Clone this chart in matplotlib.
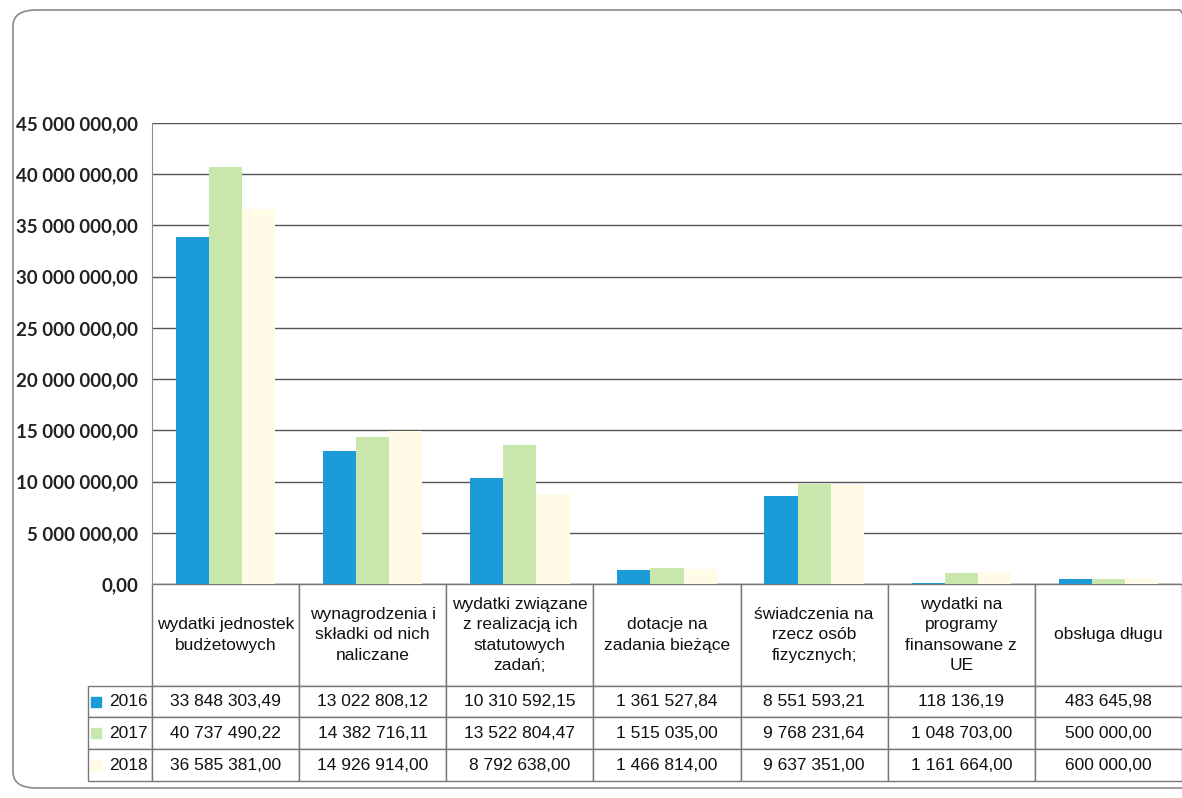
import numpy as np
import matplotlib.pyplot as plt
from matplotlib.ticker import FuncFormatter, MultipleLocator
from matplotlib.patches import FancyBboxPatch

# dane
kategorie = ['wydatki jednostek\nbudżetowych',
             'wynagrodzenia i\nskładki od nich\nnaliczane',
             'wydatki związane\nz realizacją ich\nstatutowych\nzadań;',
             'dotacje na\nzadania bieżące',
             'świadczenia na\nrzecz osób\nfizycznych;',
             'wydatki na\nprogramy\nfinansowane z\nUE',
             'obsługa długu']
lata = ['2016', '2017', '2018']
w2016 = [33848303.49, 13022808.12, 10310592.15, 1361527.84, 8551593.21, 118136.19, 483645.98]
w2017 = [40737490.22, 14382716.11, 13522804.47, 1515035.00, 9768231.64, 1048703.00, 500000.00]
w2018 = [36585381.00, 14926914.00, 8792638.00, 1466814.00, 9637351.00, 1161664.00, 600000.00]
kolory = ['#1b9bd7', '#c9e6ad', '#fffbe6']


def pl_fmt(v, pos=None):
    return f"{v:,.2f}".replace(',', ' ').replace('.', ',')


fig = plt.figure(figsize=(11.82, 7.98), dpi=100)
ax = fig.add_axes([152 / 1182, 1 - 584 / 798, 1030 / 1182, 461 / 798])

# ramka wykresu
fig.patches.append(FancyBboxPatch((13 / 1182, 10 / 798), 1190 / 1182, 778 / 798,
                                  boxstyle='round,pad=0,rounding_size=0.02',
                                  transform=fig.transFigure, fill=False,
                                  edgecolor='#8a8a8a', lw=1.2))

x = np.arange(len(kategorie))
bw = 0.225
for i, (vals, c) in enumerate(zip([w2016, w2017, w2018], kolory)):
    ax.bar(x + (i - 1) * bw, vals, bw, color=c, zorder=3)

ax.set_xlim(-0.5, len(kategorie) - 0.5)
ax.set_ylim(0, 45000000)
ax.yaxis.set_major_locator(MultipleLocator(5000000))
ax.yaxis.set_major_formatter(FuncFormatter(pl_fmt))
ax.grid(axis='y', color='#555555', lw=1, zorder=0)
ax.set_xticks([])
ax.tick_params(axis='y', length=0, pad=10)
for lab in ax.get_yticklabels():
    lab.set_fontfamily(['Lato', 'DejaVu Sans'])
    lab.set_fontweight('bold')
    lab.set_fontsize(13.5)
    lab.set_color('#222222')
for s in ['top', 'right', 'bottom']:
    ax.spines[s].set_visible(False)
ax.spines['left'].set_color('#9a8a8a')

# tabela danych
komorki = [[pl_fmt(v) for v in row] for row in [w2016, w2017, w2018]]
th = 197 / 461
tab = ax.table(cellText=komorki, rowLabels=lata, colLabels=kategorie,
               colWidths=[1 / 7] * 7, rowLoc='right',
               cellLoc='center', bbox=[0, -th, 1, th])
tab.auto_set_font_size(False)
tab._autoColumns = []
hdr = 3.2
for (r, c), cell in tab.get_celld().items():
    cell.set_height(hdr if r == 0 else 1.0)
    cell.set_edgecolor('#777777')
    cell.set_linewidth(1)
    t = cell.get_text()
    t.set_fontfamily(['Liberation Sans Narrow', 'Liberation Sans'])
    t.set_fontsize(12.5)
    t.set_linespacing(1.45)
    t.set_color('#111111')
    if c == -1:
        cell.set_width(64 / 1030)
        cell.PAD = 0.06

# znaczniki legendy przy latach
rh = th / (hdr + 3)
for i, c in enumerate(kolory):
    yc = -th * hdr / (hdr + 3) - rh * (i + 0.5)
    ax.plot([(96 - 152) / 1030], [yc], marker='s', ms=7, color=c,
            transform=ax.transAxes, clip_on=False)

fig.savefig('out.png', dpi=100)
